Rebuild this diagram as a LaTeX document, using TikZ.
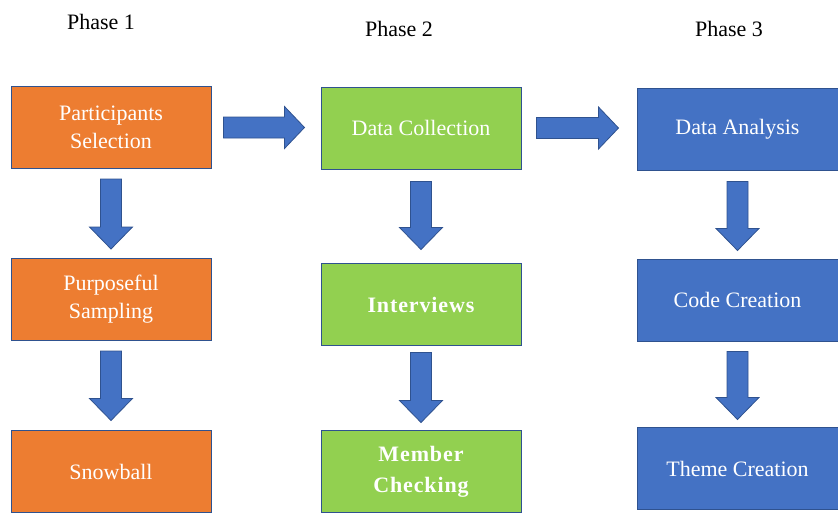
\documentclass[tikz,border=0pt]{standalone}
\usepackage{fontspec}
\setmainfont{Liberation Serif}
\newfontfamily\labelfont{Liberation Serif}
\newfontfamily\widefont[LetterSpace=4]{Liberation Serif}
\usetikzlibrary{calc}
\definecolor{phaseorange}{RGB}{237,125,49}
\definecolor{phasegreen}{RGB}{146,208,80}
\definecolor{phaseblue}{RGB}{68,114,196}
\definecolor{edgeblue}{RGB}{47,82,143}
\tikzset{
  stage/.style={draw=edgeblue, line width=1pt, minimum width=200pt, minimum height=82pt,
    align=center, text=white, font=\labelfont\fontsize{22}{28}\selectfont, inner sep=0pt},
  phase/.style={font=\labelfont\fontsize{22}{26}\selectfont, text=black, inner sep=0pt},
  downarrow/.style={draw=edgeblue, fill=phaseblue, line width=0.8pt, line join=miter,
    to path={($(\tikztostart)+(-10.5,0)$) -- ($(\tikztotarget)+(-10.5,-22)$)
      -- ($(\tikztotarget)+(-21.5,-22)$) -- (\tikztotarget) -- ($(\tikztotarget)+(21.5,-22)$)
      -- ($(\tikztotarget)+(10.5,-22)$) -- ($(\tikztostart)+(10.5,0)$) -- cycle}},
  rightarrow/.style={draw=edgeblue, fill=phaseblue, line width=0.8pt, line join=miter,
    to path={($(\tikztostart)+(0,-10.5)$) -- ($(\tikztotarget)+(-20,-10.5)$)
      -- ($(\tikztotarget)+(-20,-21)$) -- (\tikztotarget) -- ($(\tikztotarget)+(-20,21)$)
      -- ($(\tikztotarget)+(-20,10.5)$) -- ($(\tikztostart)+(0,10.5)$) -- cycle}}
}
\begin{document}
\begin{tikzpicture}[x=1pt, y=-1pt]
  \useasboundingbox (0,0) rectangle (838,512);

  % phase headings
  \node[phase] (ph1) at (101,22) {Phase 1};
  \node[phase] (ph2) at (399,29) {Phase 2};
  \node[phase] (ph3) at (729,29) {Phase 3};

  % phase 1
  \node[stage, fill=phaseorange] (selection) at (111,127.5) {Participants\\Selection};
  \node[stage, fill=phaseorange] (sampling) at (111,299.5) {Purposeful\\Sampling};
  \node[stage, fill=phaseorange] (snowball) at (111,471.5) {Snowball};

  % phase 2
  \node[stage, fill=phasegreen] (collection) at (421,128) {Data Collection};
  \node[stage, fill=phasegreen, font=\widefont\fontsize{22}{28}\selectfont\bfseries] (interviews) at (421,304.5) {Interviews};
  \node[stage, fill=phasegreen, font=\widefont\fontsize{22}{31}\selectfont\bfseries] (checking) at (421,471.5) {Member\\Checking};

  % phase 3
  \node[stage, fill=phaseblue, minimum width=201pt] (analysis) at (737.5,129) {Data Analysis};
  \node[stage, fill=phaseblue, minimum width=201pt] (coding) at (737.5,300) {Code Creation};
  \node[stage, fill=phaseblue, minimum width=201pt] (themes) at (737.5,468.5) {Theme Creation};

  % block arrows
  \draw[rightarrow] ($(selection.east)+(12,0)$) to ($(collection.west |- selection.east)+(-16,0)$);
  \draw[rightarrow] ($(collection.east)+(15,0)$) to ($(analysis.west |- collection.east)+(-18,0)$);

  \draw[downarrow] ($(selection.south)+(0,10)$) to ($(sampling.north)+(0,-9)$);
  \draw[downarrow] ($(sampling.south)+(0,10)$) to ($(snowball.north)+(0,-9.5)$);
  \draw[downarrow] ($(collection.south)+(0,12)$) to ($(interviews.north)+(0,-13.5)$);
  \draw[downarrow] ($(interviews.south)+(0,6.5)$) to ($(checking.north)+(0,-7.5)$);
  \draw[downarrow] ($(analysis.south)+(0,11)$) to ($(coding.north)+(0,-8)$);
  \draw[downarrow] ($(coding.south)+(0,10)$) to ($(themes.north)+(0,-7.5)$);
\end{tikzpicture}
\end{document}
